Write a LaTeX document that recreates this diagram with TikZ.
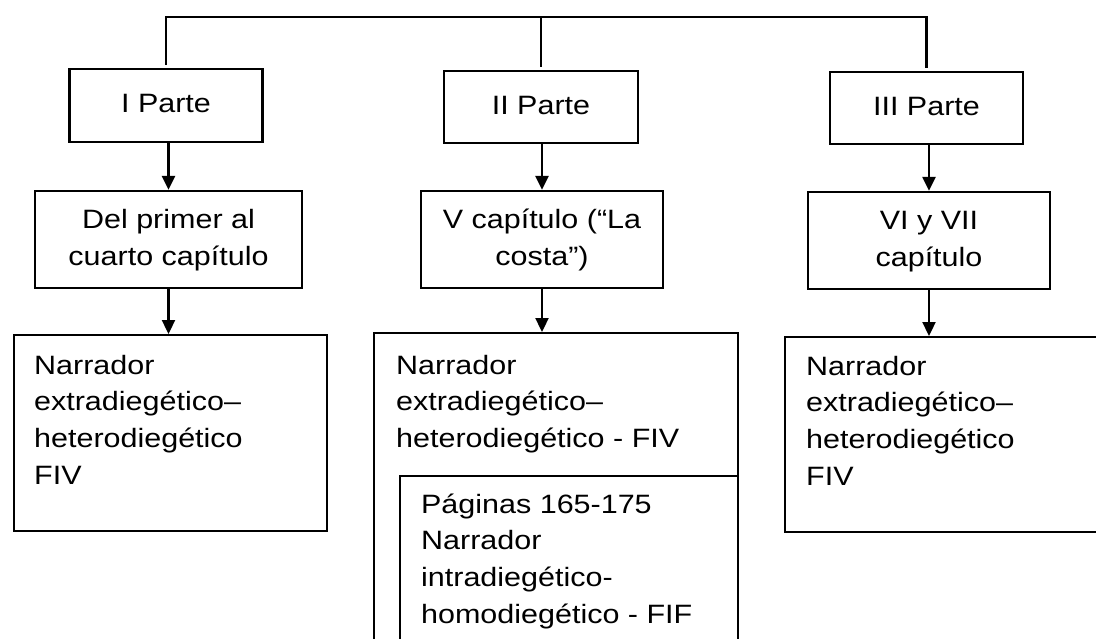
\documentclass[tikz,border=0pt]{standalone}
\usepackage{fontspec}
\setmainfont{Liberation Sans}
\usepackage{graphicx}
\usetikzlibrary{arrows.meta}
\newcommand{\sqz}[2][c]{\scalebox{1}[.87]{\begin{tabular}[t]{@{}#1@{}}#2\end{tabular}}}

\begin{document}
\begin{tikzpicture}[
  x=1pt, y=-1pt,
  >={Triangle[width=13pt,length=14pt]},
  line width=2.3pt,
  font=\fontsize{30.5pt}{42.3pt}\selectfont,
  box/.style = {draw, inner sep=0pt},
  wide/.style = {box, minimum width=#1},
  narr/.style = {box, anchor=north west},
  txt/.style = {inner sep=0pt, anchor=base west}
  ]
  \useasboundingbox (0,0) rectangle (1096,638);
  % Partes
  \node[wide=193pt, minimum height=73pt] (p1) at (166,105.5) {\sqz{I Parte}};
  \node[wide=194pt, minimum height=72pt] (p2) at (541,107) {\sqz{II Parte}};
  \node[wide=193pt, minimum height=72pt] (p3) at (926.5,108) {\sqz{III Parte}};
  % Capitulos
  \node[wide=267pt, minimum height=97pt] (c1) at (168.5,239.5) {\sqz{Del primer al\\cuarto capítulo}};
  \node[wide=242pt, minimum height=97pt] (c2) at (542,239.5) {\sqz{V capítulo (“La\\costa”)}};
  \node[wide=242pt, minimum height=97pt] (c3) at (929,240.5) {\sqz{VI y VII\\capítulo}};
  % Narradores
  \node[narr, minimum width=313pt, minimum height=196pt] (n1) at (13,334) {};
  \node[narr, minimum width=364pt, minimum height=330pt] (n2) at (373,332) {};
  \node[narr, minimum width=338pt, minimum height=190pt] (n2i) at (399,475) {};
  \node[narr, minimum width=340pt, minimum height=195pt] (n3) at (784,336) {};
  \node[txt] (t1) at ([shift={(20,40)}]n1.north west)
    {\sqz[l]{Narrador\\extradiegético–\\heterodiegético\\FIV}};
  \node[txt] (t2) at ([shift={(22,42)}]n2.north west)
    {\sqz[l]{Narrador\\extradiegético–\\heterodiegético - FIV}};
  \node[txt] (t2i) at ([shift={(21,38)}]n2i.north west)
    {\sqz[l]{Páginas 165-175\\Narrador\\intradiegético-\\homodiegético - FIF}};
  \node[txt] (t3) at ([shift={(21,39)}]n3.north west)
    {\sqz[l]{Narrador\\extradiegético–\\heterodiegético\\FIV}};
  % Linea superior
  \coordinate (bus) at (0,17);
  \draw ([yshift=3pt]p1.north) -- (p1.north |- bus) -- (p3.north |- bus) -- ([yshift=3pt]p3.north);
  \draw (p2.north |- bus) -- ([yshift=3pt]p2.north);
  % Flechas
  \foreach \i in {1,2,3} {
    \draw[->] (p\i.south -| c\i) -- (c\i.north);
    \draw[->] (c\i.south) -- (c\i.south |- n\i.north);
  }
\end{tikzpicture}
\end{document}
